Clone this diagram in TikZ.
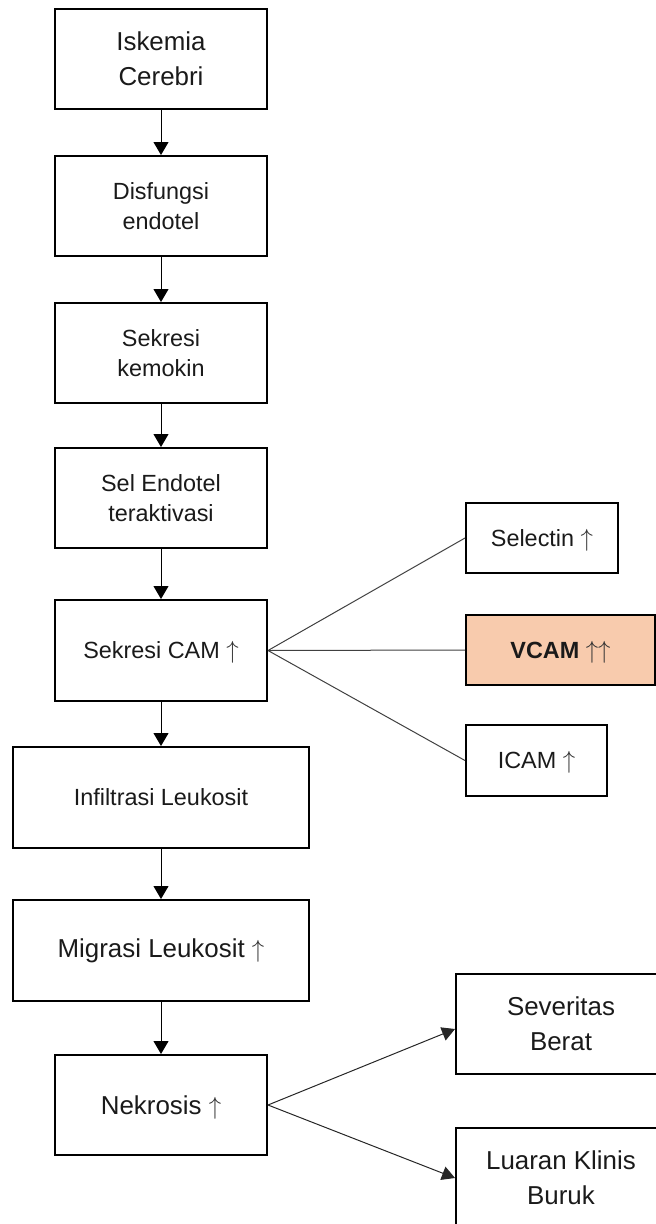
\documentclass[tikz,border=0pt]{standalone}
\usepackage{fontspec}
\setmainfont{Liberation Sans}
\usetikzlibrary{arrows.meta,calc}
\definecolor{peach}{HTML}{F8CBAD}
\definecolor{txt}{HTML}{1A1A1A}
\newcommand{\upar}{\smash{\ensuremath{\color{black!80}\uparrow}}}
\begin{document}
\begin{tikzpicture}[x=1bp,y=-1bp,
  box/.style={draw=black, line width=2bp, inner sep=0pt, align=center, text=txt},
  big/.style={font=\fontsize{26}{35}\selectfont},
  small/.style={font=\fontsize{23.5}{30}\selectfont},
  mainbox/.style={box, minimum width=212bp, minimum height=100bp},
  widebox/.style={box, minimum width=295bp, minimum height=101bp},
  flow/.style={-{Triangle[width=15bp,length=13bp]}, line width=1bp, black},
  fan/.style={line width=1bp, black!75},
  outarrow/.style={-{Triangle[width=14bp,length=13bp]}, line width=1bp, black!85}]
\useasboundingbox (0,0) rectangle (656,1224);

\node[mainbox,big] (isk) at (161,59) {Iskemia\\Cerebri};
\node[mainbox,small] (dis) at (161,206) {Disfungsi\\endotel};
\node[mainbox,small] (kem) at (161,353) {Sekresi\\kemokin};
\node[mainbox,small] (sel) at (161,498) {Sel Endotel\\teraktivasi};
\node[mainbox,small,minimum height=101bp] (cam) at (161,650.5) {Sekresi CAM \upar};
\node[widebox,small] (inf) at (161,797.5) {Infiltrasi Leukosit};
\node[widebox,big] (mig) at (161,950.5) {Migrasi Leukosit \upar};
\node[mainbox,big] (nek) at (161,1105) {Nekrosis \upar};

\node[box,small,minimum width=152bp,minimum height=70bp] (selc) at (542,538) {Selectin \upar};
\node[box,small,fill=peach,minimum width=189bp,minimum height=70bp] (vcam) at (560.5,650) {\textbf{VCAM} \upar\upar};
\node[box,small,minimum width=141bp,minimum height=71bp] (icam) at (536.5,760.5) {ICAM \upar};

\node[box,big,minimum width=210bp,minimum height=100bp] (sev) at (561,1024) {Severitas\\Berat};
\node[box,big,minimum width=210bp,minimum height=100bp] (lua) at (561,1178) {Luaran Klinis\\Buruk};

\draw[flow] (isk.south) -- (dis.north);
\draw[flow] (dis.south) -- (kem.north);
\draw[flow] (kem.south) -- (sel.north);
\draw[flow] (sel.south) -- (cam.north);
\draw[flow] (cam.south) -- (inf.north);
\draw[flow] (inf.south) -- (mig.north);
\draw[flow] (mig.south) -- (nek.north);

\draw[fan] (cam.east) -- (selc.west);
\draw[fan] (cam.east) -- (vcam.west);
\draw[fan] (cam.east) -- (icam.west);

\draw[outarrow] (nek.east) -- ($(sev.west)+(0,5)$);
\draw[outarrow] (nek.east) -- (lua.west);
\end{tikzpicture}
\end{document}
